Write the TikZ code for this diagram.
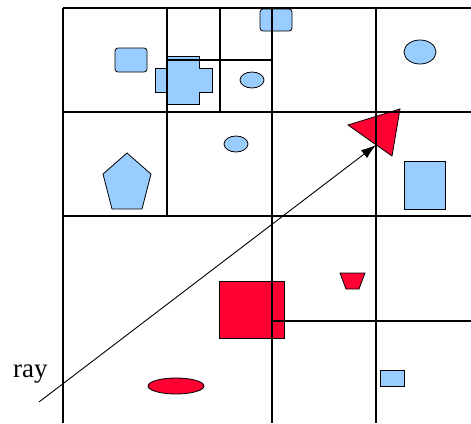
\documentclass[tikz,border=0pt]{standalone}
\usepackage{fontspec}
\setmainfont{Liberation Serif}
\usetikzlibrary{arrows.meta}
\definecolor{objblue}{HTML}{99CCFF}
\definecolor{objred}{HTML}{FF0033}
\begin{document}
\begin{tikzpicture}[x=1pt,y=-1pt,
  gridline/.style={draw=black,line width=1.3pt},
  blueobj/.style={fill=objblue,draw=black,line width=0.8pt},
  redobj/.style={fill=objred,draw=black,line width=0.8pt},
  rayline/.style={draw=black,line width=0.9pt,-{Latex[length=15pt,width=10pt]}}]
\useasboundingbox (0,0) rectangle (471,423);
% blue objects
\draw[blueobj,rounded corners=3pt] (260,9) rectangle (292,31);
\draw[blueobj,rounded corners=3pt] (115,48) rectangle (147,72);
\draw[blueobj] (167,56) -- (199,56) -- (199,68) -- (212,68) -- (212,92) -- (199,92)
  -- (199,104) -- (167,104) -- (167,92) -- (155,92) -- (155,68) -- (167,68) -- cycle;
\draw[blueobj] (420,52) ellipse [x radius=16pt,y radius=12pt];
\draw[blueobj] (252,80) ellipse [x radius=12pt,y radius=8pt];
\draw[blueobj] (236,144) ellipse [x radius=12pt,y radius=8pt];
\draw[blueobj] (127,153) -- (151,174) -- (142,209) -- (112,209) -- (103,174) -- cycle;
\draw[blueobj] (404,161) rectangle (445,209);
\draw[blueobj] (380,370) rectangle (404,386);
% red objects
\draw[redobj] (348,125) -- (400,109) -- (392,156) -- cycle;
\draw[redobj] (219,281) rectangle (284,338);
\draw[redobj] (176,386) ellipse [x radius=28pt,y radius=8pt];
\draw[redobj] (340,273) -- (365,273) -- (359,289) -- (346,289) -- cycle;
% grid
\draw[gridline] (63,8) -- (471,8);
\draw[gridline] (63,112) -- (471,112);
\draw[gridline] (63,216) -- (471,216);
\draw[gridline] (272,321) -- (471,321);
\draw[gridline] (167,60) -- (272,60);
\draw[gridline] (63,8) -- (63,423);
\draw[gridline] (272,8) -- (272,423);
\draw[gridline] (376,8) -- (376,423);
\draw[gridline] (167,8) -- (167,216);
\draw[gridline] (220,8) -- (220,112);
% ray
\coordinate (raystart) at (39,402);
\coordinate (rayend) at (376,145);
\draw[rayline] (raystart) -- (rayend);
\node[anchor=base west,inner sep=0pt,font=\fontsize{27}{30}\selectfont] (raylabel) at (13,377) {ray};
\end{tikzpicture}
\end{document}
